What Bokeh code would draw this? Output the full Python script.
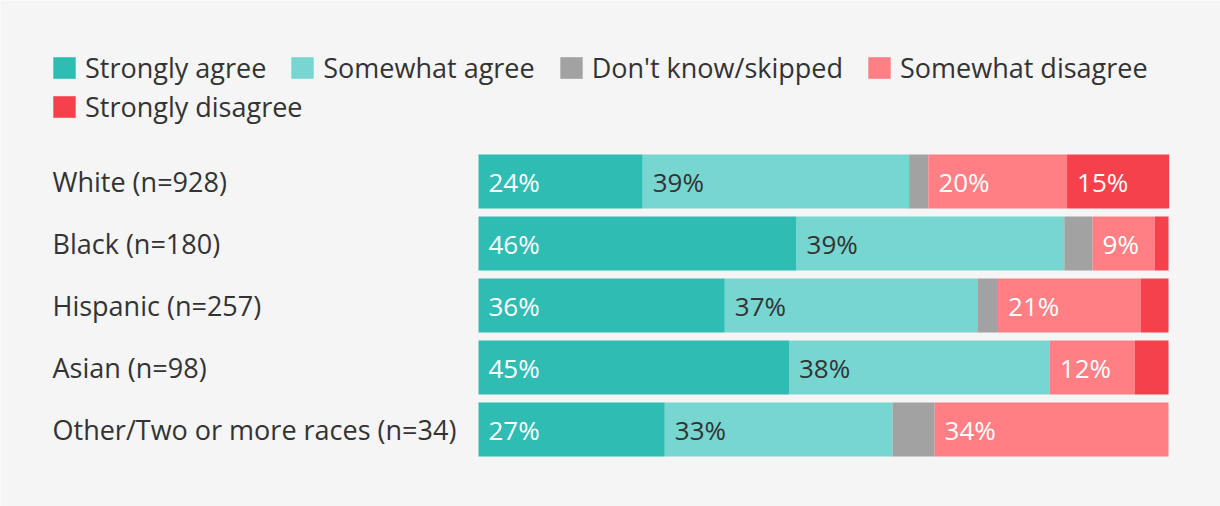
from bokeh.plotting import figure
from bokeh.models import ColumnDataSource, Range1d, Legend, LegendItem
from bokeh.core.properties import value
from bokeh.embed import file_html
from bokeh.resources import INLINE

# ---- data ----
groups = ["White (n=928)", "Black (n=180)", "Hispanic (n=257)", "Asian (n=98)",
          "Other/Two or more races (n=34)"]
series = ["Strongly agree", "Somewhat agree", "Don't know/skipped",
          "Somewhat disagree", "Strongly disagree"]
strongly_agree = [23.8, 46.1, 35.7, 45.0, 27.0]
somewhat_agree = [38.6, 38.8, 36.6, 37.8, 33.0]
dont_know = [2.8, 4.1, 3.0, 0.0, 6.1]
somewhat_disagree = [20.1, 9.0, 20.7, 12.3, 33.9]
strongly_disagree = [14.8, 2.0, 4.0, 4.9, 0.0]

colors = ["#2fbcb3", "#78d6d1", "#a2a2a2", "#ff7f85", "#f5414b"]
label_colors = ["#ffffff", "#333333", "#ffffff", "#ffffff", "#ffffff"]
FONT = "Open Sans"
FS = "27px"
W, H = 1220, 506
BAR_L, BAR_R = 478, 1168
ppu = (BAR_R - BAR_L) / 100.0
ROW0, PITCH = 181, 62

keys = ["sa", "swa", "dk", "swd", "sd"]
vals = [strongly_agree, somewhat_agree, dont_know, somewhat_disagree, strongly_disagree]
ys = list(range(len(groups)))
src = ColumnDataSource(dict(y=ys, **{k: v for k, v in zip(keys, vals)}))

p = figure(width=W, height=H, output_backend="svg", toolbar_location=None,
           x_axis_location=None, y_axis_location=None, min_border=0,
           x_range=Range1d(-BAR_L / ppu, (W - BAR_L) / ppu),
           y_range=Range1d((H - ROW0) / PITCH, -ROW0 / PITCH))
p.background_fill_color = "#f5f5f5"
p.border_fill_color = "#f5f5f5"
p.outline_line_color = None
p.xgrid.visible = False
p.ygrid.visible = False

rs = p.hbar_stack(keys, y="y", height=54 / PITCH, color=colors, line_width=0,
                  source=src)

# segment labels
lx, ly, lt, lc = [], [], [], []
for i in range(len(groups)):
    left = 0.0
    for j, v in enumerate(vals):
        val = v[i]
        if round(val) >= 9:
            lx.append(left); ly.append(i); lt.append(f"{round(val)}%"); lc.append(label_colors[j])
        left += val
p.text(x="x", y="y", text="t", text_color="c", source=ColumnDataSource(dict(x=lx, y=ly, t=lt, c=lc)),
       x_offset=10, text_baseline="middle", text_align="left",
       text_font=value(FONT), text_font_size="26px")

# group labels
p.text(x=[-BAR_L / ppu + 52 / ppu] * len(groups), y=ys, text=groups,
       text_baseline="middle", text_align="left", text_color="#333333",
       text_font=value(FONT), text_font_size=FS)

def mk_legend(idx, loc):
    lg = Legend(items=[LegendItem(label=series[k], renderers=[rs[k]]) for k in idx],
                orientation="horizontal", location=loc)
    lg.background_fill_alpha = 0
    lg.border_line_color = None
    lg.padding = 0
    lg.margin = 0
    lg.spacing = 22
    lg.label_standoff = 7
    lg.glyph_width = 28
    lg.glyph_height = 27
    lg.label_height = 27
    lg.label_text_font = FONT
    lg.label_text_font_size = FS
    lg.label_text_color = "#333333"
    lg.label_text_baseline = "middle"
    return lg

p.add_layout(mk_legend([0, 1, 2, 3], (50, H - 86)), "center")
p.add_layout(mk_legend([4], (50, H - 125)), "center")

open("out.html", "w").write(file_html(p, INLINE))
